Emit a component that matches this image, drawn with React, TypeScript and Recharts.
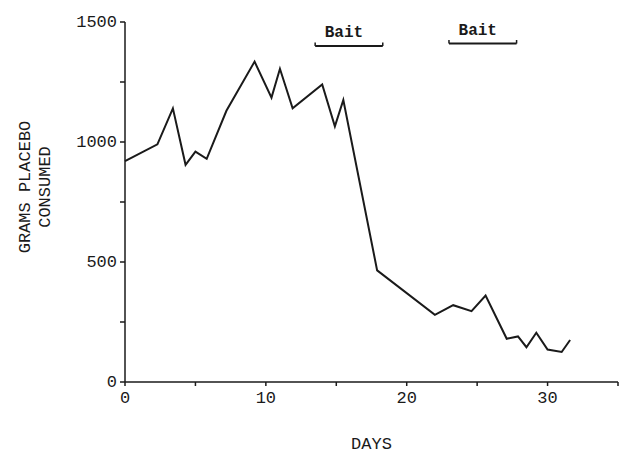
import React from 'react'
import { LineChart, Line, XAxis, YAxis, ReferenceLine } from 'recharts'

const days = [0, 2.3, 3.4, 4.3, 5, 5.8, 7.2, 9.2, 10.4, 11, 11.9, 14, 14.9, 15.5, 17.9, 22, 23.3, 24.6, 25.6, 27.1, 27.9, 28.5, 29.2, 30, 31, 31.6]
const grams = [920, 990, 1140, 905, 960, 930, 1130, 1335, 1185, 1305, 1140, 1240, 1065, 1175, 465, 280, 320, 295, 360, 180, 190, 145, 205, 135, 125, 175]

const xTicks = [0, 5, 10, 15, 20, 25, 30, 35]
const yTicks = [0, 250, 500, 750, 1000, 1250, 1500]

const baitPeriods = [
  { start: 13.5, end: 18.3, level: 1400 },
  { start: 23.0, end: 27.8, level: 1410 },
]

const data = days.map((d, i) => ({ day: d, grams: grams[i] }))

const font = '"Liberation Mono", "DejaVu Sans Mono", monospace'
const ink = '#1a1a1a'

const XTick = (props: any) => {
  const { x, y, payload } = props
  if (payload.value % 10 !== 0) return null
  return (
    <text x={x} y={y + 15} textAnchor="middle" fontFamily={font} fontSize={17} fill={ink}>
      {payload.value}
    </text>
  )
}

const YTick = (props: any) => {
  const { x, y, payload } = props
  if (payload.value % 500 !== 0) return null
  return (
    <text x={x - 1} y={y + 5} textAnchor="end" fontFamily={font} fontSize={17} fill={ink}>
      {payload.value}
    </text>
  )
}

const YLabel = () => (
  <g fontFamily={font} fontSize={17} fill={ink}>
    <text x={25} y={187} textAnchor="middle" transform="rotate(-90 25 187)" dy={5}>
      GRAMS PLACEBO
    </text>
    <text x={45} y={187} textAnchor="middle" transform="rotate(-90 45 187)" dy={5}>
      CONSUMED
    </text>
  </g>
)

export default function App() {
  return (
    <div style={{ position: 'absolute', top: 0, left: 0, width: 630, height: 453, background: '#fff' }}>
      <LineChart width={630} height={453} data={data} margin={{ top: 22, right: 12, left: 65, bottom: 41 }}>
        <XAxis
          dataKey="day"
          type="number"
          domain={[0, 35]}
          ticks={xTicks}
          tick={<XTick />}
          tickSize={4}
          height={30}
          stroke={ink}
          strokeWidth={1.5}
          label={{ value: 'DAYS', position: 'insideBottom', offset: -37, fontFamily: font, fontSize: 17, fill: ink }}
        />
        <YAxis
          type="number"
          domain={[0, 1500]}
          ticks={yTicks}
          tick={<YTick />}
          tickSize={5}
          width={60}
          stroke={ink}
          strokeWidth={1.5}
          label={{ content: () => <YLabel /> }}
        />
        {baitPeriods.map((b, i) => (
          <ReferenceLine
            key={`bait-${i}`}
            segment={[
              { x: b.start, y: b.level },
              { x: b.end, y: b.level },
            ]}
            stroke={ink}
            strokeWidth={2}
            label={{ value: 'Bait', position: 'top', offset: 9, dx: -5, fontFamily: font, fontSize: 16, fill: ink, fontWeight: 'bold' }}
          />
        ))}
        {baitPeriods.flatMap((b, i) => [
          <ReferenceLine
            key={`bl-${i}`}
            segment={[
              { x: b.start, y: b.level },
              { x: b.start, y: b.level + 15 },
            ]}
            stroke={ink}
            strokeWidth={1.5}
          />,
          <ReferenceLine
            key={`br-${i}`}
            segment={[
              { x: b.end, y: b.level },
              { x: b.end, y: b.level + 15 },
            ]}
            stroke={ink}
            strokeWidth={1.5}
          />,
        ])}
        <Line
          type="linear"
          dataKey="grams"
          stroke={ink}
          strokeWidth={2}
          dot={false}
          isAnimationActive={false}
        />
      </LineChart>
    </div>
  )
}
